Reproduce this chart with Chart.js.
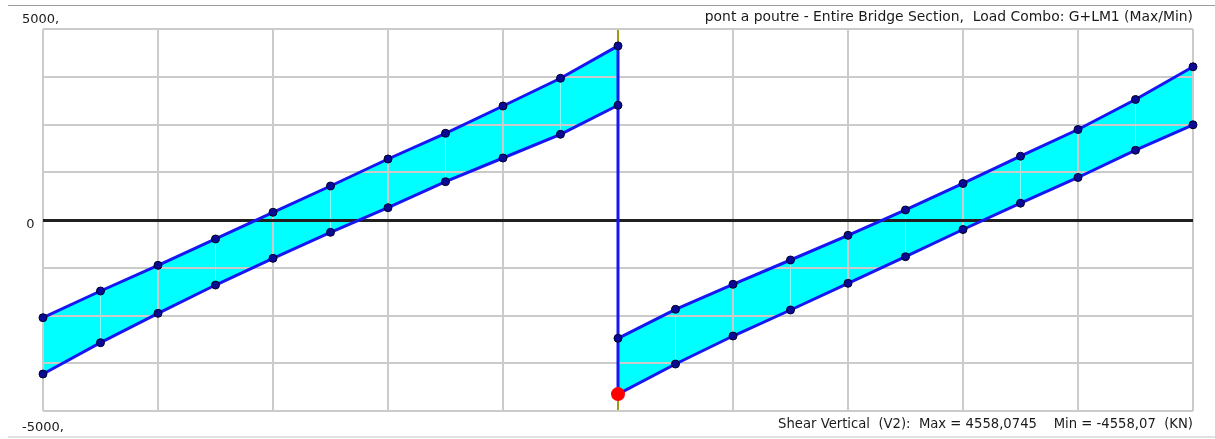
<!DOCTYPE html>
<html>
<head>
<meta charset="utf-8">
<title>Shear Vertical (V2) - G+LM1</title>
<script src="https://cdn.jsdelivr.net/npm/chart.js@4.4.1/dist/chart.umd.min.js"></script>
<style>
  html, body { margin: 0; padding: 0; background: #fff; }
  #frame { position: relative; width: 1215px; height: 439px; overflow: hidden; background: #fff; }
  #frame .rule { position: absolute; left: 8px; right: 0; }
  #frame .rule.top { top: 5px; height: 1px; background: #9c9c9c; }
  #frame .rule.bottom { top: 436px; height: 2px; background: #e2e2e2; }
  #shear { position: absolute; left: 0; top: 0; }
</style>
</head>
<body>
<div id="frame">
  <div class="rule top"></div>
  <div class="rule bottom"></div>
  <canvas id="shear" width="1215" height="439"></canvas>
</div>
<script>
// Header and footer lines of the diagram
const chartTitle = 'pont a poutre - Entire Bridge Section,  Load Combo: G+LM1 (Max/Min)';
const chartFooter = 'Shear Vertical  (V2):  Max = 4558,0745    Min = -4558,07  (KN)';

// Stations along the deck (span 1: 0..10, span 2: 10..20, support at 10)
const leftStations  = [0, 1, 2, 3, 4, 5, 6, 7, 8, 9, 10];
const rightStations = [10, 11, 12, 13, 14, 15, 16, 17, 18, 19, 20];

// Shear envelope, kN
const leftMax  = [-2558, -1859, -1186, -497, 202, 890, 1597, 2270, 2984, 3710, 4558.0745];
const leftMin  = [-4032, -3212, -2443, -1702, -1003, -322, 322, 1003, 1623, 2244, 3003];
const rightMax = [-3097, -2338, -1683, -1047, -401, 262, 956, 1670, 2369, 3155, 4011];
const rightMin = [-4558.07, -3770, -3037, -2356, -1657, -961, -249, 440, 1113, 1827, 2492];

// Jump at the support and the governing minimum
const supportStation = 10;
const jumpValues = [4558.0745, -4558.07];
const minMarker = [-4558.07];

// Vertical axis
const yMin = -5000, yMax = 5000, yStep = 1250;
const yTickLabels = { '5000': '5000,', '0': ' 0', '-5000': '-5000,' };

const FONT = "'DejaVu Sans', 'Liberation Sans', Arial, sans-serif";
const LINE_BLUE = '#1616f2';
const POINT_FILL = '#0a0a96';
const POINT_EDGE = '#000028';
const BAND_CYAN = '#00ffff';
const GRID_GREY = '#cbcbcb';
const SUPPORT_OLIVE = '#9e9a12';
const ZERO_LINE = '#202020';
const TEXT = '#1a1a1a';

const toPoints = (xs, ys) => xs.map((x, i) => ({ x, y: ys[i] }));

const envelopeLine = (data, extra) => Object.assign({
  data,
  borderColor: LINE_BLUE,
  borderWidth: 3,
  pointRadius: 4,
  pointHoverRadius: 4,
  pointBackgroundColor: POINT_FILL,
  pointBorderColor: POINT_EDGE,
  pointBorderWidth: 1,
  tension: 0,
  fill: false,
  clip: false,
  order: 2
}, extra || {});

// Grid is redrawn over the cyan band so the lines show through it, below the envelope lines
const gridOverBand = {
  id: 'gridOverBand',
  beforeDatasetsDraw(chart) {
    const area = chart.chartArea;
    ['seam', 'x', 'y'].forEach(id => chart.scales[id].drawGrid(area));
  }
};

new Chart(document.getElementById('shear'), {
  type: 'line',
  data: {
    datasets: [
      {
        data: jumpValues.map(v => ({ x: supportStation, y: v })),
        borderColor: LINE_BLUE, borderWidth: 3, pointRadius: 0, fill: false, clip: false, order: 5
      },
      envelopeLine(toPoints(leftStations, leftMax)),
      envelopeLine(toPoints(leftStations, leftMin), { fill: 1, backgroundColor: BAND_CYAN }),
      envelopeLine(toPoints(rightStations, rightMax)),
      envelopeLine(toPoints(rightStations, rightMin), { fill: 3, backgroundColor: BAND_CYAN }),
      {
        data: minMarker.map(v => ({ x: supportStation, y: v })),
        showLine: false, pointRadius: 7, pointHoverRadius: 7,
        pointBackgroundColor: '#ff0000', pointBorderColor: '#ff0000', pointBorderWidth: 0,
        fill: false, clip: false, order: 0
      }
    ]
  },
  options: {
    responsive: false,
    maintainAspectRatio: false,
    devicePixelRatio: 1,
    animation: false,
    events: [],
    layout: { padding: { left: 22, right: 22, top: 0, bottom: 0 } },
    plugins: {
      legend: { display: false },
      tooltip: { enabled: false },
      filler: { drawTime: 'beforeDatasetsDraw' },
      title: {
        display: true, text: chartTitle, align: 'end', color: TEXT,
        font: { family: FONT, size: 13.9, weight: 'normal', lineHeight: '15.6px' },
        padding: { top: 10, bottom: 3.4 }
      },
      subtitle: {
        display: true, text: chartFooter, align: 'end', position: 'bottom', color: TEXT,
        font: { family: FONT, size: 13.2, weight: 'normal', lineHeight: '15.6px' },
        padding: { top: 6.2, bottom: 6.2 }
      }
    },
    scales: {
      x: {
        type: 'linear', position: 'bottom', min: 0, max: 20,
        ticks: { display: false, stepSize: 2 },
        grid: {
          drawTicks: false, lineWidth: 2,
          color: c => (c.tick && c.tick.value === supportStation) ? SUPPORT_OLIVE : GRID_GREY
        },
        border: { display: false },
        afterFit: s => { s.height = 0; }
      },
      seam: {
        type: 'linear', position: 'bottom', min: 0, max: 20,
        ticks: { display: false, stepSize: 1, maxTicksLimit: 30 },
        grid: {
          drawTicks: false, lineWidth: 1,
          color: c => (c.tick && c.tick.value % 2 === 1) ? 'rgba(255,255,255,0.55)' : 'rgba(0,0,0,0)'
        },
        border: { display: false },
        afterFit: s => { s.height = 0; }
      },
      y: {
        type: 'linear', position: 'left', min: yMin, max: yMax,
        ticks: {
          stepSize: yStep, autoSkip: false, mirror: true, crossAlign: 'near', padding: -21, color: TEXT,
          font: c => {
            const v = c.tick ? c.tick.value : null;
            if (v === yMax) return { family: FONT, size: 13, lineHeight: '18px' };
            if (v === yMin) return { family: FONT, size: 13, lineHeight: '16.5px' };
            if (v === 0) return { family: FONT, size: 13, lineHeight: '10px' };
            return { family: FONT, size: 13, lineHeight: 1.2 };
          },
          callback: v => {
            const label = yTickLabels[String(v)];
            if (label === undefined) return '';
            if (v === yMax) return [label, ''];
            if (v === yMin) return ['', '', label];
            return ['', label];
          }
        },
        grid: {
          drawTicks: false,
          color: c => (c.tick && c.tick.value === 0) ? ZERO_LINE : GRID_GREY,
          lineWidth: c => (c.tick && c.tick.value === 0) ? 3 : 2
        },
        border: { display: false },
        afterFit: s => { s.width = 21; }
      }
    }
  },
  plugins: [gridOverBand]
});
</script>
</body>
</html>
